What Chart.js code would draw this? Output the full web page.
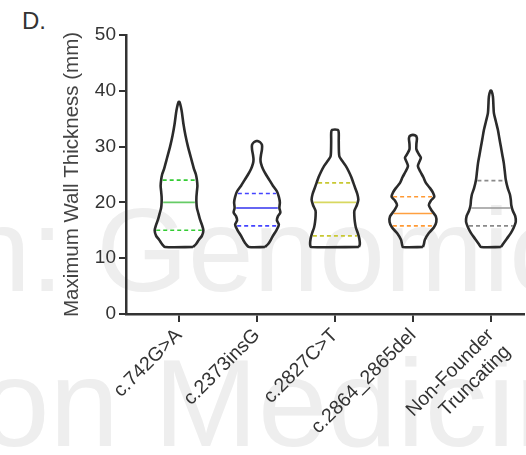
<!DOCTYPE html>
<html>
<head>
<meta charset="utf-8">
<style>
  html, body { margin: 0; padding: 0; background: #fff; }
  #wrap { position: relative; width: 526px; height: 455px; overflow: hidden; }
  .wm { position: absolute; font-family: 'Liberation Sans', Arial, sans-serif; color: #eeeeee; white-space: nowrap; line-height: 1; }
  #panel { position: absolute; left: 22px; top: 7px; font: 24px 'Liberation Sans', Arial, sans-serif; color: #333; }
  canvas { position: absolute; left: 0; top: 0; }
</style>
</head>
<body>
<div id="wrap">
  <div class="wm" style="left:-35px; top:191px; font-size:118px;">n: Genomic</div>
  <div class="wm" style="left:-20px; top:340px; font-size:125px;">on Medicin</div>
  <div id="panel">D.</div>
  <canvas id="myChart" width="526" height="455"></canvas>
</div>

<script src="https://cdn.jsdelivr.net/npm/chart.js"></script>
<script>
// categories and y ticks
const categories = ['c.742G>A', 'c.2373insG', 'c.2827C>T', 'c.2864_2865del', 'Non-Founder Truncating'];
const yTicks = [0, 10, 20, 30, 40, 50];

// violin outlines: wall thickness levels (mm) and half widths (density)
const levels742 = [12, 12.5, 13.3, 14, 15, 16, 17, 18, 19, 20, 21, 22, 23, 24, 25, 26, 27, 28, 30, 32, 34, 36, 37, 38];
const width742  = [14, 17, 20, 23, 24.5, 23, 21, 19.5, 18, 17.5, 17.5, 18, 18.5, 18, 17, 15, 13.5, 12, 9, 6.5, 4.5, 3, 2, 0.5];

const levels2373 = [12, 12.5, 13, 14, 15, 16, 16.8, 17.5, 18.2, 19, 20, 21, 22, 23, 24, 25, 26, 27, 27.7, 28.5, 29.5, 30.3, 30.8, 31];
const width2373  = [8, 11, 13, 16, 19.5, 22, 20, 21, 23.5, 22.5, 23, 22, 20, 16, 12.5, 9, 6, 4, 3.5, 4, 5, 5, 3, 0.5];

const levels2827 = [12, 12.5, 13.5, 14.5, 15.5, 16.5, 17.5, 18.5, 19.5, 20.5, 21.5, 22.5, 23.5, 24.5, 25.5, 26.5, 27.5, 28.2, 29, 31, 32.5, 33];
const width2827  = [24, 25, 24.5, 23, 21, 20, 19.5, 19.5, 22, 23.5, 22.5, 20.5, 18.5, 16.5, 14, 11, 7, 4.5, 4, 3.8, 3.8, 3];

const levels2864 = [12, 12.5, 13.3, 14.5, 15.5, 16.5, 17.5, 18.5, 19.5, 20.3, 21, 21.8, 22.6, 23.5, 24.5, 25.5, 26.5, 27.3, 28, 28.6, 29.5, 30.5, 31.5, 32];
const width2864  = [10, 11, 12, 16, 21, 23.5, 23, 19, 16, 18, 21.5, 20, 17, 13, 10.5, 7.5, 5, 6.5, 8, 6, 3.5, 3.5, 4, 2.5];

const levelsNF = [12, 12.5, 13.5, 14.5, 15.5, 16.5, 17.5, 18.5, 19.5, 20.5, 21.5, 22.5, 24, 25.5, 27, 28.5, 30, 31.5, 33, 34.5, 36, 37.5, 39, 40];
const widthNF  = [10, 12, 16, 20, 23, 25, 24.5, 22, 20.5, 20, 19, 17, 15, 14, 13, 11.5, 10, 8.5, 7, 5, 3, 2.5, 2, 0.5];

// quartiles (mm)
const lowerQuartile = [15, 15.8, 14, 15.8, 15.8];
const medians       = [20, 19, 20, 18, 19];
const upperQuartile = [24, 21.6, 23.5, 21, 23.9];

const profiles = [
  [levels742, width742],
  [levels2373, width2373],
  [levels2827, width2827],
  [levels2864, width2864],
  [levelsNF, widthNF]
];

const densityScale = 1 / 78.4;
const dashColors   = ['#33cc33', '#4444ff', '#c8c832', '#ff9933', '#8a8a8a'];
const medianColors = ['#66cc66', '#3333ee', '#d8d860', '#ffa040', '#999999'];

function widthAt(levels, widths, y) {
  for (let k = 0; k < levels.length - 1; k++) {
    if (y >= levels[k] && y <= levels[k + 1]) {
      const t = (y - levels[k]) / (levels[k + 1] - levels[k]);
      return widths[k] + t * (widths[k + 1] - widths[k]);
    }
  }
  return 0;
}

const datasets = [];
profiles.forEach((p, i) => {
  const levels = p[0], widths = p[1];
  const pts = [];
  for (let k = 0; k < levels.length; k++) pts.push({x: i + widths[k] * densityScale, y: levels[k]});
  for (let k = levels.length - 1; k >= 0; k--) pts.push({x: i - widths[k] * densityScale, y: levels[k]});
  pts.push(pts[0]);
  datasets.push({
    data: pts, borderColor: '#2b2b2b', borderWidth: 2.6, pointRadius: 0,
    tension: 0.25, fill: false, borderJoinStyle: 'round'
  });

  [[lowerQuartile[i], true], [medians[i], false], [upperQuartile[i], true]].forEach(q => {
    const w = widthAt(levels, widths, q[0]) * densityScale - 0.02;
    datasets.push({
      data: [{x: i - w, y: q[0]}, {x: i + w, y: q[0]}],
      borderColor: q[1] ? dashColors[i] : medianColors[i],
      borderWidth: 1.6,
      borderDash: q[1] ? [4, 3] : [],
      pointRadius: 0, fill: false
    });
  });
});

var myChart = new Chart(document.getElementById('myChart'), {
  type: 'line',
  data: { datasets: datasets },
  options: {
    responsive: false,
    animation: false,
    layout: { padding: { left: 56, top: 35, right: 0, bottom: 0 } },
    plugins: { legend: { display: false }, tooltip: { enabled: false } },
    scales: {
      x: {
        type: 'linear',
        min: -0.68, max: 4.43,
        afterBuildTicks: (scale) => { scale.ticks = categories.map((c, i) => ({value: i})); },
        afterFit: (scale) => { scale.height = 141; },
        ticks: {
          autoSkip: false, minRotation: 45, maxRotation: 45, padding: 2,
          color: '#333', font: { family: "'Liberation Sans', Arial, sans-serif", size: 19.5 },
          callback: (v) => {
            const c = categories[v];
            return c && c.indexOf(' ') > 0 ? c.split(' ') : c;
          }
        },
        grid: { drawOnChartArea: false, drawTicks: true, tickLength: 8, color: '#333', lineWidth: 2 },
        border: { display: true, color: '#333', width: 2.5 }
      },
      y: {
        min: 0, max: 50,
        afterBuildTicks: (scale) => { scale.ticks = yTicks.map(v => ({value: v})); },
        afterFit: (scale) => { scale.width = 70; },
        ticks: {
          padding: 3, color: '#333',
          font: { family: "'Liberation Sans', Arial, sans-serif", size: 19 }
        },
        grid: { drawOnChartArea: false, drawTicks: true, tickLength: 7, color: '#333', lineWidth: 2 },
        border: { display: true, color: '#333', width: 2.5 },
        title: {
          display: true, text: 'Maximum Wall Thickness (mm)', color: '#444',
          font: { family: "'Liberation Sans', Arial, sans-serif", size: 20.5 }
        }
      }
    }
  }
});
</script>
</body>
</html>
